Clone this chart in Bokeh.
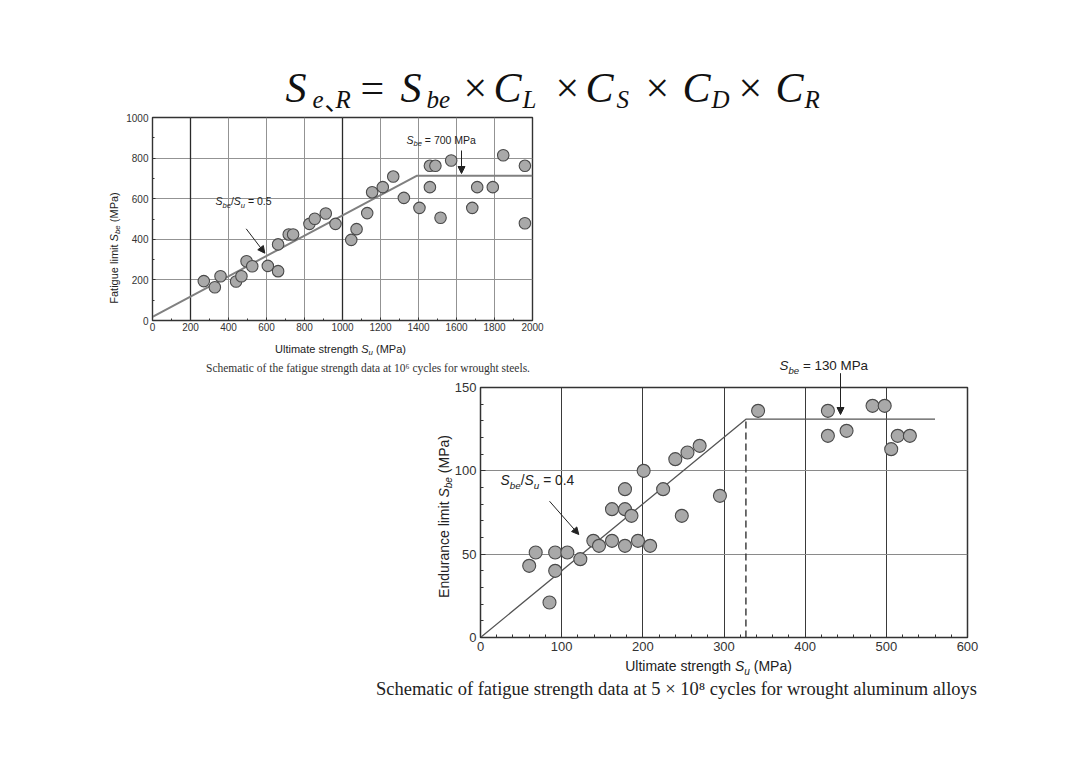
import math
from bokeh.plotting import figure
from bokeh.models import Label, Arrow, NormalHead, SingleIntervalTicker, Range1d, Span
from bokeh.embed import file_html
from bokeh.resources import INLINE

# ---------------- data: wrought steels (10^6 cycles) ----------------
steel_su = [270, 328, 358, 440, 468, 495, 525, 607, 661, 661, 717, 740, 826, 854, 912,
            963, 1046, 1074, 1130, 1156, 1212, 1267, 1323, 1405, 1460, 1460, 1489, 1516,
            1572, 1683, 1709, 1791, 1846, 1960, 1960]
steel_sbe = [194, 164, 218, 192, 218, 292, 267, 269, 243, 375, 424, 424, 476, 501, 527,
             476, 397, 450, 529, 632, 657, 709, 604, 555, 657, 762, 762, 506,
             788, 555, 657, 657, 814, 762, 479]
steel_trend_x = [0, 1390, 2000]
steel_trend_y = [18, 713, 713]
steel_x_range = (0, 2000)
steel_y_range = (0, 1000)
steel_tick_step = 200
steel_dark_grid_x = [200, 1000]

# ---------------- data: wrought aluminum alloys (5x10^8 cycles) ----------------
alu_su = [60, 68, 85, 92, 92, 107, 123, 139, 146, 162, 162, 178, 178, 178, 186, 194,
          201, 209, 225, 240, 248, 255, 270, 295, 342, 428, 428, 451, 483, 498, 506, 514, 529]
alu_sbe = [43, 51, 21, 51, 40, 51, 47, 58, 55, 58, 77, 55, 77, 89, 73, 58,
           100, 55, 89, 107, 73, 111, 115, 85, 136, 136, 121, 124, 139, 139, 113, 121, 121]
alu_trend_x = [0, 327, 560]
alu_trend_y = [0, 131, 131]
alu_knee_x = [327, 327]
alu_knee_y = [0, 131]
alu_x_range = (0, 600)
alu_y_range = (0, 150)
alu_x_step = 100
alu_y_step = 50

SANS = "Liberation Sans"
SERIF = "Liberation Serif"
INK = "#222222"
PAGE_W, PAGE_H = 1064, 720
MID = 0.34  # distance from baseline to the middle of the em box, in em

ARIAL = {' ': 278, '(': 333, ')': 333, '/': 278, '=': 584, '.': 278, 'M': 833, 'P': 667,
         'S': 667, 'E': 667, 'F': 611, 'U': 722, 'a': 556, 'b': 556, 'c': 500, 'd': 556,
         'e': 556, 'g': 556, 'h': 556, 'i': 222, 'l': 222, 'm': 833, 'n': 556, 'r': 333,
         's': 500, 't': 278, 'u': 556}


def text_w(s, size):
    return sum(ARIAL.get(c, 556) for c in s) * size / 1000.0


def make_fig(xr, yr, fw, fh, bl, br, bt, bb):
    p = figure(x_range=Range1d(*xr), y_range=Range1d(*yr),
               width=bl + fw + br, height=bt + fh + bb,
               frame_width=fw, frame_height=fh,
               min_border_left=bl, min_border_right=br,
               min_border_top=bt, min_border_bottom=bb,
               output_backend="svg", toolbar_location=None, tools="")
    p.background_fill_color = "white"
    p.border_fill_color = "white"
    p.outline_line_color = "#333333"
    p.outline_line_width = 1.4
    for ax in (p.xaxis, p.yaxis):
        ax.axis_line_color = "#333333"
        ax.major_tick_in = 4
        ax.major_tick_out = 0
        ax.minor_tick_in = 2
        ax.minor_tick_out = 0
        ax.major_tick_line_color = "#333333"
        ax.minor_tick_line_color = "#333333"
        ax.major_label_text_font = SANS
        ax.major_label_text_color = "#333333"
    return p


# ================= top chart (steels) =================
top = make_fig(steel_x_range, steel_y_range, 380, 203, 152, 532, 117, 38)
top.xaxis.ticker = SingleIntervalTicker(interval=steel_tick_step, num_minor_ticks=2)
top.yaxis.ticker = SingleIntervalTicker(interval=steel_tick_step, num_minor_ticks=2)
for ax in (top.xaxis, top.yaxis):
    ax.major_label_text_font_size = "10px"
    ax.major_tick_in = 3
top.xaxis.major_label_standoff = 2
top.yaxis.major_label_standoff = 4
top.grid.grid_line_color = "#939393"
top.grid.grid_line_width = 1
for gx in steel_dark_grid_x:
    top.add_layout(Span(location=gx, dimension="height", line_color="#2a2a2a",
                        line_width=1.3, level="underlay"))
top.line(steel_trend_x, steel_trend_y, line_color="#808080", line_width=2)
top.scatter(steel_su, steel_sbe, size=11.5, fill_color="#a9a9a9",
            line_color="#4a4a4a", line_width=1.1)

# ================= bottom chart (aluminum) =================
bot = make_fig(alu_x_range, alu_y_range, 487, 250, 480, 97, 29, 63)
bot.outline_line_width = 1.5
bot.xaxis.ticker = SingleIntervalTicker(interval=alu_x_step, num_minor_ticks=5)
bot.yaxis.ticker = SingleIntervalTicker(interval=alu_y_step, num_minor_ticks=5)
for ax in (bot.xaxis, bot.yaxis):
    ax.major_label_text_font_size = "13px"
    ax.major_tick_in = 5
    ax.minor_tick_in = 3
bot.xaxis.major_label_standoff = 4
bot.yaxis.major_label_standoff = 4
bot.xgrid.grid_line_color = "#3a3a3a"
bot.ygrid.grid_line_color = "#8a8a8a"
bot.line(alu_trend_x, alu_trend_y, line_color="#555555", line_width=1.3)
bot.line(alu_knee_x, alu_knee_y, line_color="#333333", line_width=1.4, line_dash="7 4")
bot.scatter(alu_su, alu_sbe, size=13, fill_color="#a9a9a9",
            line_color="#4a4a4a", line_width=1.1)

# ================= transparent text layer over the whole page =================
page = figure(x_range=Range1d(0, PAGE_W), y_range=Range1d(PAGE_H, 0),
              width=PAGE_W, height=PAGE_H, frame_width=PAGE_W, frame_height=PAGE_H,
              min_border=0, min_border_left=0, min_border_right=0,
              min_border_top=0, min_border_bottom=0,
              x_axis_type=None, y_axis_type=None,
              output_backend="svg", toolbar_location=None, tools="",
              styles={"position": "absolute", "left": "0px", "top": "0px",
                      "z-index": "5", "pointer-events": "none"})
page.outline_line_color = None
page.background_fill_alpha = 0
page.border_fill_alpha = 0
page.xgrid.visible = False
page.ygrid.visible = False


def lab(x, y, text, font, size, style="normal", color=INK, align="left", angle=0):
    """x, y: page pixels of the text baseline."""
    if angle == 0:
        ym, xm = y - MID * size, x
    else:
        ym, xm = y, x - MID * size
    page.add_layout(Label(x=xm, y=ym, text=text, angle=angle, text_font=font,
                          text_font_size=f"{size:.1f}px", text_font_style=style,
                          text_color=color, text_align=align, text_baseline="middle"))


def rich(pieces, px, py, size, align="left", vertical=False, color=INK):
    """pieces: (text, italic, subscript). px/py: page pixels of start (or centre) on baseline."""
    sub_scale = 0.72
    widths = [text_w(t, size * (sub_scale if sub else 1)) for t, it, sub in pieces]
    total = sum(widths)
    pos = (px if not vertical else py)
    if align == "center":
        pos = pos - total / 2 if not vertical else pos + total / 2
    for (t, it, sub), w in zip(pieces, widths):
        s = size * (sub_scale if sub else 1)
        off = 0.25 * size if sub else 0
        lead = text_w(t[:len(t) - len(t.lstrip(' '))], s)
        shown = t.strip(' ')
        if not vertical:
            lab(pos + lead, py + off, shown, SANS, s, "italic" if it else "normal", color)
            pos += w
        else:
            lab(px + off, pos - lead, shown, SANS, s, "italic" if it else "normal", color,
                angle=math.pi / 2)
            pos -= w


def arrow(a, b):
    page.add_layout(Arrow(end=NormalHead(size=7, fill_color=INK, line_color=INK),
                          x_start=a[0], y_start=a[1], x_end=b[0], y_end=b[1],
                          line_color=INK, line_width=1))


# title formula S_{e,R} = S_be x C_L x C_S x C_D x C_R
title_pieces = [
    ("S", 285, "italic", False, SERIF), ("e", 312, "italic", True, SERIF),
    ("、", 324, "normal", True, "Noto Sans CJK SC"), ("R", 335, "italic", True, SERIF),
    ("=", 360, "normal", False, SERIF),
    ("S", 400, "italic", False, SERIF), ("be", 426, "italic", True, SERIF),
    ("×", 463, "normal", False, SERIF),
    ("C", 493, "italic", False, SERIF), ("L", 522, "italic", True, SERIF),
    ("×", 555, "normal", False, SERIF),
    ("C", 585, "italic", False, SERIF), ("S", 616, "italic", True, SERIF),
    ("×", 645, "normal", False, SERIF),
    ("C", 682, "italic", False, SERIF), ("D", 711, "italic", True, SERIF),
    ("×", 738, "normal", False, SERIF),
    ("C", 775, "italic", False, SERIF), ("R", 804, "italic", True, SERIF),
]
for t, px, style, sub, font in title_pieces:
    lab(px, 107 if sub else 101.7, t, font, 25 if sub else 42, style, "#111111")

# steel chart texts
arrow((245.7, 228.3), (264.3, 252.7))
arrow((461, 150), (461, 173))
rich([("S", True, False), ("be", True, True), ("/", False, False),
      ("S", True, False), ("u", True, True), (" = 0.5", False, False)], 215, 204.5, 10.5)
rich([("S", True, False), ("be", True, True), (" = 700 MPa", False, False)], 406, 143, 10.5)
rich([("Ultimate strength ", False, False), ("S", True, False),
      ("u", True, True), (" (MPa)", False, False)], 340, 352, 11, align="center")
rich([("Fatigue limit ", False, False), ("S", True, False),
      ("be", True, True), (" (MPa)", False, False)], 117, 247.5, 11, align="center",
     vertical=True)
lab(367.5, 371.5, "Schematic of the fatigue strength data at 10\u2076 cycles for wrought steels.",
    SERIF, 11.5, color="#333333", align="center")

# aluminum chart texts
arrow((549, 500.7), (578.3, 534))
arrow((840, 372.7), (840, 414))
rich([("S", True, False), ("be", True, True), ("/", False, False),
      ("S", True, False), ("u", True, True), (" = 0.4", False, False)], 500, 485, 13.8)
rich([("S", True, False), ("be", True, True), (" = 130 MPa", False, False)], 779, 370, 13.4)
rich([("Ultimate strength ", False, False), ("S", True, False),
      ("u", True, True), (" (MPa)", False, False)], 708, 670.5, 14, align="center")
rich([("Endurance limit ", False, False), ("S", True, False),
      ("be", True, True), (" (MPa)", False, False)], 448, 516, 14, align="center",
     vertical=True)
lab(676, 694.5,
    "Schematic of fatigue strength data at 5 \u00d7 10\u2078 cycles for wrought aluminum alloys",
    SERIF, 18.5, color="#222222", align="center")

open("out.html", "w").write(file_html([top, bot, page], INLINE))
